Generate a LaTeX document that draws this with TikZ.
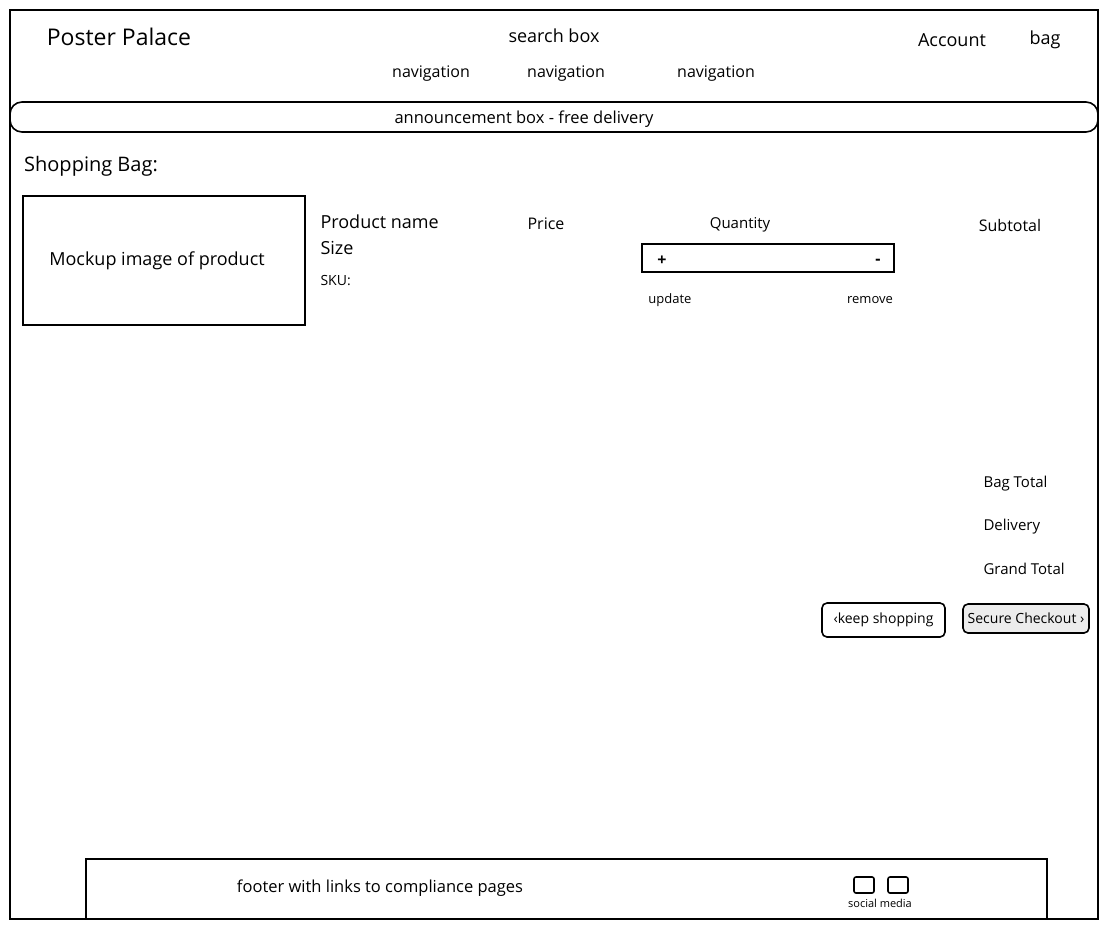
\documentclass[tikz,border=0pt]{standalone}
\usepackage{fontspec}
\setmainfont{Open Sans}
\begin{document}
\begin{tikzpicture}[x=1pt, y=-1pt,
    frame/.style={rectangle, draw, line width=1.6pt, inner sep=0pt},
    button/.style={frame, rounded corners=5pt},
    titletxt/.style={font=\fontsize{23}{27}\selectfont},
    bigtxt/.style={font=\fontsize{18}{22}\selectfont},
    midtxt/.style={font=\fontsize{16}{19}\selectfont},
    smalltxt/.style={font=\fontsize{14}{17}\selectfont},
    tinytxt/.style={font=\fontsize{11}{13}\selectfont}]
    \useasboundingbox (0,0) rectangle (1110,932);
    \draw[line width=1.6pt] (10,10) rectangle (1098,919);  % page outline
    % header
    \node[titletxt] (logo) at (119,37) {Poster Palace};
    \node[bigtxt] (search) at (554,36) {search box};
    \node[bigtxt] (account) at (952,40) {Account};
    \node[bigtxt] (bag) at (1045,40) {bag};
    \node[midtxt] (nav1) at (431,74) {navigation};
    \node[midtxt] (nav2) at (566,74) {navigation};
    \node[midtxt] (nav3) at (716,74) {navigation};
    \node[frame, rounded corners=12pt, minimum width=1088pt, minimum height=30pt] (announce) at (554,117) {};
    \node[midtxt, font=\fontsize{16.5}{19}\selectfont] (announcetxt) at (524,119) {announcement box - free delivery};
    % bag contents
    \node[font=\fontsize{20}{24}\selectfont] (bagtitle) at (91,166) {Shopping Bag:};
    \node[frame, minimum width=282pt, minimum height=129pt] (image) at (164,260.5) {};
    \node[bigtxt] (imagetxt) at (157,261) {Mockup image of product};
    \node[bigtxt, anchor=west] (pname) at (317,222) {Product name};
    \node[bigtxt, anchor=west] (size) at (317,248) {Size};
    \node[smalltxt, anchor=west] (sku) at (317,281) {SKU:};
    \node[midtxt] (price) at (546,224) {Price};
    \node[font=\fontsize{15}{18}\selectfont] (qty) at (740,225) {Quantity};
    \node[midtxt] (subtotal) at (1010,225) {Subtotal};
    \node[frame, minimum width=252pt, minimum height=28pt] (qtybox) at (768,258) {};
    \node[midtxt, font=\bfseries\fontsize{16}{19}\selectfont] (plus) at (662,261) {+};
    \node[midtxt, font=\bfseries\fontsize{16}{19}\selectfont] (minus) at (878,262) {-};
    \node[font=\fontsize{13}{16}\selectfont] (update) at (670,300) {update};
    \node[font=\fontsize{13}{16}\selectfont] (remove) at (870,300) {remove};
    % totals
    \node[font=\fontsize{15}{18}\selectfont, anchor=west] (bagtotal) at (980,484) {Bag Total};
    \node[font=\fontsize{15}{18}\selectfont, anchor=west] (delivery) at (980,527) {Delivery};
    \node[font=\fontsize{15}{18}\selectfont, anchor=west] (grandtotal) at (980,569) {Grand Total};
    \node[button, minimum width=123pt, minimum height=34pt, smalltxt] (keep) at (883.5,620) {‹keep shopping};
    \node[button, fill=gray!15, minimum width=126pt, minimum height=29pt, smalltxt] (checkout) at (1026,618.5) {Secure Checkout ›};
    % footer
    \node[frame, minimum width=961pt, minimum height=60pt] (footer) at (566.5,889) {};
    \node[font=\fontsize{16.5}{19}\selectfont] (footertxt) at (380,888) {footer with links to compliance pages};
    \node[button, rounded corners=2pt, minimum width=20pt, minimum height=16pt] (social1) at (864,885) {};
    \node[button, rounded corners=2pt, minimum width=20pt, minimum height=16pt] (social2) at (898,885) {};
    \node[tinytxt] (socialtxt) at (880,903) {social media};
\end{tikzpicture}
\end{document}
